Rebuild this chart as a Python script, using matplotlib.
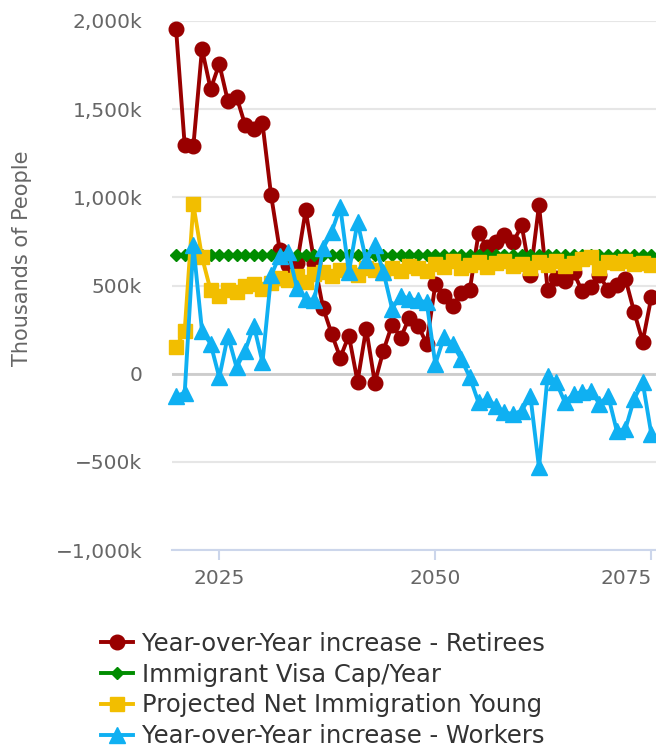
import matplotlib
matplotlib.use("Agg")
import matplotlib.pyplot as plt
from matplotlib.ticker import FuncFormatter

# Datos (miles de personas)
years = list(range(2020, 2076))

retirees = [1955, 1295, 1290, 1841, 1614, 1756, 1545, 1570, 1409, 1390,
            1420, 1011, 700, 614, 625, 926, 630, 375, 227, 91,
            216, -45, 256, -51, 131, 278, 205, 318, 273, 170,
            506, 443, 386, 455, 477, 795, 720, 745, 784, 744,
            841, 560, 955, 477, 540, 528, 575, 466, 490, 560,
            472, 504, 538, 352, 182, 434]

visa_cap = [675] * 56

young = [150, 244, 960, 661, 472, 443, 472, 464, 496, 511,
         480, 515, 540, 530, 555, 520, 565, 575, 555, 590,
         575, 560, 600, 590, 570, 600, 585, 610, 600, 580,
         620, 605, 640, 600, 615, 635, 605, 625, 640, 610,
         620, 600, 635, 615, 640, 610, 625, 650, 660, 600,
         635, 625, 640, 620, 630, 615]

workers = [-125, -110, 727, 244, 169, -21, 216, 36, 131, 273,
           64, 557, 670, 690, 483, 426, 415, 710, 803, 945,
           576, 860, 642, 727, 576, 368, 443, 424, 415, 405,
           55, 206, 169, 83, -21, -163, -144, -182, -220, -229,
           -210, -125, -532, -11, -49, -163, -115, -106, -97, -172,
           -125, -324, -314, -144, -49, -343]

labels = ["Year-over-Year increase - Retirees",
          "Immigrant Visa Cap/Year",
          "Projected Net Immigration Young",
          "Year-over-Year increase - Workers"]

plt.rcParams['font.family'] = ['DejaVu Sans']

fig = plt.figure(figsize=(6.56, 7.48), dpi=100)
ax = fig.add_axes([172 / 656, 198 / 748, 484 / 656, 529 / 748])

l1, = ax.plot(years, retirees, color='#990000', lw=2.8, marker='o', ms=10.5,
              clip_on=False, zorder=3, label=labels[0])
l2, = ax.plot(years, visa_cap, color='#008c00', lw=2.8, marker='D', ms=6.5,
              clip_on=False, zorder=4, label=labels[1])
l3, = ax.plot(years, young, color='#f2be00', lw=2.8, marker='s', ms=10.5,
              clip_on=False, zorder=5, label=labels[2])
l4, = ax.plot(years, workers, color='#0fb0f2', lw=2.8, marker='^', ms=11,
              clip_on=False, zorder=6, label=labels[3])

ax.set_xlim(2019.53, 2075.54)
ax.set_ylim(-1000, 2000)

ax.set_yticks([-1000, -500, 0, 500, 1000, 1500, 2000])


def fmt_k(v, pos):
    if v == 0:
        return "0"
    s = "{:,.0f}k".format(abs(v))
    return ("\u2212" + s) if v < 0 else s


ax.yaxis.set_major_formatter(FuncFormatter(fmt_k))
ax.set_xticks([2025, 2050, 2075])

ax.grid(axis='y', color='#e6e6e6', lw=1.5)
ax.axhline(0, color='#cccccc', lw=2, zorder=1)
ax.set_axisbelow(True)

for side in ['top', 'right', 'left']:
    ax.spines[side].set_visible(False)
ax.spines['bottom'].set_color('#ccd6eb')
ax.spines['bottom'].set_linewidth(1.5)

ax.tick_params(axis='y', length=0, pad=21.5, labelsize=14.5, labelcolor='#666666')
ax.tick_params(axis='x', length=7, width=1.5, color='#ccd6eb', pad=7,
               labelsize=14.5, labelcolor='#666666')
ax.get_xticklabels()[-1].set_horizontalalignment('right')

fig.text(22 / 656, 1 - 258 / 748, "Thousands of People", rotation=90,
         ha='center', va='center', fontsize=15, color='#666666')

fig.legend(handles=[l1, l2, l3, l4], loc='upper left',
           bbox_to_anchor=(91 / 656, 1 - 622 / 748), frameon=False,
           fontsize=17.5, handlelength=1.33, handletextpad=0.36,
           labelspacing=0.28, borderpad=0.4, borderaxespad=0,
           labelcolor='#333333')

fig.savefig("out.png", dpi=100)
